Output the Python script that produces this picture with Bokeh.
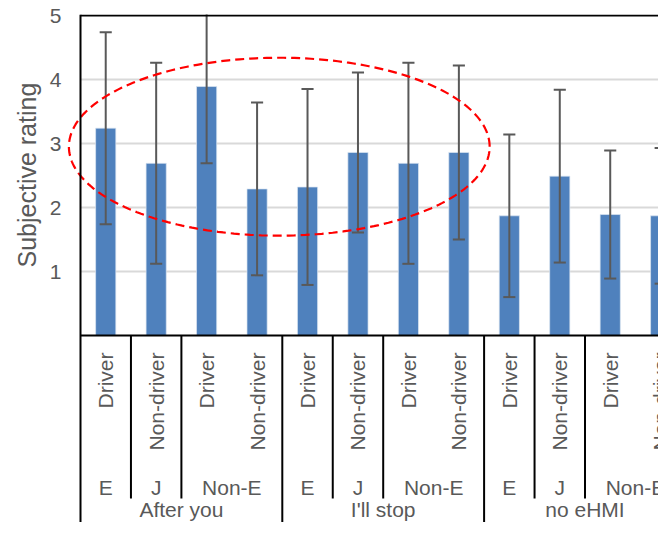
import numpy as np
from bokeh.plotting import figure
from bokeh.models import ColumnDataSource, Range1d, FixedTicker, Span, Title
from bokeh.core.properties import value
from bokeh.embed import file_html
from bokeh.resources import INLINE

# ---------------- data ----------------
bar_condition = ["After you"] * 4 + ["I'll stop"] * 4 + ["no eHMI"] * 4
bar_nation = ["E", "J", "Non-E", "Non-E"] * 3
bar_role = ["Driver", "Non-driver", "Driver", "Non-driver"] * 3
means = [3.24, 2.69, 3.89, 2.29, 2.32, 2.86, 2.69, 2.86, 1.87, 2.49, 1.89, 1.87]
sds = [1.50, 1.57, 1.20, 1.35, 1.53, 1.25, 1.57, 1.36, 1.27, 1.35, 1.00, 1.06]
y_ticks = [1, 2, 3, 4, 5]
grid_ticks = [1, 2, 3, 4]
y_label = "Subjective rating"

# highlighted region (dashed ellipse), data units
ell_cx, ell_cy, ell_a, ell_b = 3.94, 2.95, 4.17, 1.39

# ---------------- layout constants ----------------
PX_Y = 64.0          # pixels per rating unit
PX_X = 50.45         # pixels per bar slot
W, H = 658, 522
LEFT_PAD_PX = 16     # frame extends left of the value axis (room for ellipse)
FRAME_LEFT = 64
FRAME_TOP = 14
X_START = -LEFT_PAD_PX / PX_X
X_END = X_START + (W - FRAME_LEFT) / PX_X
Y_END = 5.0 + (15 - FRAME_TOP) / PX_Y
Y_START = Y_END - (H - FRAME_TOP) / PX_Y
ROLE_Y = -17 / PX_Y
NATION_BOTTOM = -163 / PX_Y
NATION_Y = -152 / PX_Y
COND_Y = -174 / PX_Y
TITLE_OFFSET = 255
BAR_W = 0.40
CAP_HALF = 0.12
GREY = "#595959"
FONT = "Liberation Sans"

n = len(means)
xs = [i + 0.5 for i in range(n)]
upper = [m + s for m, s in zip(means, sds)]
lower = [m - s for m, s in zip(means, sds)]

src = ColumnDataSource(dict(x=xs, top=means, upper=upper, lower=lower,
                            cl=[x - CAP_HALF for x in xs], cr=[x + CAP_HALF for x in xs],
                            role=bar_role))

p = figure(width=W, height=H, x_range=Range1d(X_START, X_END), y_range=Range1d(Y_START, Y_END),
           output_backend="svg", toolbar_location=None, x_axis_location=None,
           min_border_left=FRAME_LEFT, min_border_top=FRAME_TOP,
           min_border_right=0, min_border_bottom=0)
p.outline_line_color = None
p.background_fill_color = "white"
p.border_fill_color = "white"
p.xgrid.visible = False
p.ygrid.visible = False

ax = p.yaxis[0]
ax.ticker = FixedTicker(ticks=y_ticks)
ax.axis_line_color = None
ax.major_tick_out = 0
ax.major_tick_in = 0
ax.major_tick_line_color = None
ax.minor_tick_line_color = None
ax.major_label_standoff = 3
ax.major_label_text_font = FONT
ax.major_label_text_font_size = "21px"
ax.major_label_text_color = GREY

# axis title, beside the rating scale
p.add_layout(Title(text=y_label, align="left", offset=TITLE_OFFSET, standoff=12,
                   text_font=FONT, text_font_size="25px", text_font_style="normal",
                   text_color=GREY), "left")

# gridlines (only across the plotting area)
p.segment(x0=[0] * len(grid_ticks), y0=grid_ticks, x1=[X_END] * len(grid_ticks), y1=grid_ticks,
          line_color="#D9D9D9", line_width=2)

# bars
p.vbar(x="x", top="top", bottom=0, width=BAR_W, source=src, fill_color="#4F81BD",
       line_color="#DCE6F2", line_width=0.7)

# error bars
p.segment(x0="x", y0="lower", x1="x", y1="upper", source=src, line_color=GREY, line_width=2)
p.segment(x0="cl", y0="upper", x1="cr", y1="upper", source=src, line_color=GREY, line_width=2)
p.segment(x0="cl", y0="lower", x1="cr", y1="lower", source=src, line_color=GREY, line_width=2)

# frame lines: category axis, top border, left border
p.segment(x0=[0, 0], y0=[0, y_ticks[-1]], x1=[X_END, X_END], y1=[0, y_ticks[-1]],
          line_color="black", line_width=2)
p.add_layout(Span(location=0, dimension="height", line_color="black", line_width=2))

# table separators
sx, sy0, sy1 = [], [], []
for i in range(1, n):
    if bar_condition[i] != bar_condition[i - 1]:
        sx.append(i); sy0.append(0); sy1.append(Y_START)
    elif bar_nation[i] != bar_nation[i - 1]:
        sx.append(i); sy0.append(0); sy1.append(NATION_BOTTOM)
p.segment(x0=sx, y0=sy0, x1=sx, y1=sy1, line_color="black", line_width=2)

# level 1 labels (rotated)
p.text(x="x", y=ROLE_Y, text="role", source=src, angle=np.pi / 2,
       text_align="right", text_baseline="middle",
       text_font=value(FONT), text_font_size=value("21px"), text_color=GREY)

# level 2 / level 3 labels, centred on runs
def runs(keys):
    out = []
    start = 0
    for i in range(1, len(keys) + 1):
        if i == len(keys) or keys[i] != keys[start]:
            out.append((keys[start], (start + i) / 2.0))
            start = i
    return out

nat_keys = [c + "|" + nn for c, nn in zip(bar_condition, bar_nation)]
nat_runs = runs(nat_keys)
p.text(x=[r[1] for r in nat_runs], y=[NATION_Y] * len(nat_runs),
       text=[r[0].split("|")[1] for r in nat_runs],
       text_align="center", text_baseline="middle",
       text_font=value(FONT), text_font_size=value("21px"), text_color=GREY)

cond_runs = runs(bar_condition)
p.text(x=[r[1] for r in cond_runs], y=[COND_Y] * len(cond_runs),
       text=[r[0] for r in cond_runs],
       text_align="center", text_baseline="middle",
       text_font=value(FONT), text_font_size=value("21px"), text_color=GREY)

# dashed ellipse
t = np.linspace(0, 2 * np.pi, 240)
p.line(x=ell_cx + ell_a * np.cos(t), y=ell_cy + ell_b * np.sin(t),
       line_color="#FF0000", line_width=2.2, line_dash="9 5")

open("out.html", "w").write(file_html(p, INLINE))
